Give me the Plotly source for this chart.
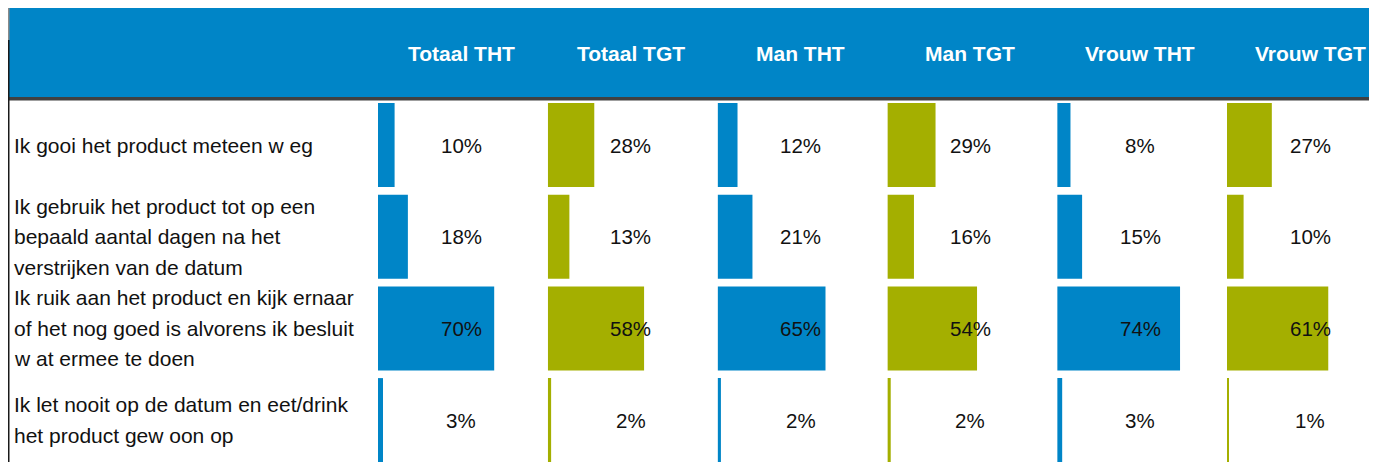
import plotly.graph_objects as go

# ---- data ----
columns = ["Totaal THT", "Totaal TGT", "Man THT", "Man TGT", "Vrouw THT", "Vrouw TGT"]
row_labels = [
    "Ik gooi het product meteen w eg",
    "Ik gebruik het product tot op een<br>bepaald aantal dagen na het<br>verstrijken van de datum",
    "Ik ruik aan het product en kijk ernaar<br>of het nog goed is alvorens ik besluit<br>w at ermee te doen",
    "Ik let nooit op de datum en eet/drink<br>het product gew oon op",
]
totaal_tht = [10, 18, 70, 3]
totaal_tgt = [28, 13, 58, 2]
man_tht = [12, 21, 65, 2]
man_tgt = [29, 16, 54, 2]
vrouw_tht = [8, 15, 74, 3]
vrouw_tgt = [27, 10, 61, 1]
series = [totaal_tht, totaal_tgt, man_tht, man_tgt, vrouw_tht, vrouw_tgt]

BLUE = "#0085C7"
OLIVE = "#A4AF00"
col_colors = [BLUE, OLIVE, BLUE, OLIVE, BLUE, OLIVE]

# page body has an 8px margin, so the figure is placed at (8, 8) in the window
W, H = 1369, 454
FONT = "Liberation Sans, Arial, sans-serif"

fig = go.Figure()
ypos = list(range(len(row_labels)))

annotations = []
layout_axes = {}
for i, (name, vals) in enumerate(zip(columns, series)):
    ax = "" if i == 0 else str(i + 1)
    fig.add_trace(go.Bar(
        x=vals, y=ypos, orientation="h", width=0.916,
        marker=dict(color=col_colors[i], line=dict(width=0)),
        xaxis="x" + ax, yaxis="y", showlegend=False, hoverinfo="skip",
    ))
    start = 370 + 169.8 * i
    end = min(W, start + 166)
    layout_axes["xaxis" + ax] = dict(
        domain=[start / W, end / W], range=[0, 100 * (end - start) / 166],
        visible=False, fixedrange=True,
    )
    for r, v in enumerate(vals):
        annotations.append(dict(
            x=50, y=r, xref="x" + ax, yref="y", text=f"{v}%", showarrow=False,
            xanchor="center", yanchor="middle",
            font=dict(family=FONT, size=20.5, color="#111111"),
        ))
    # header title
    annotations.append(dict(
        x=50, y=1 - 45 / H, xref="x" + ax, yref="paper", text=f"<b>{name}</b>",
        showarrow=False, xanchor="center", yanchor="middle",
        font=dict(family=FONT, size=21, color="white"),
    ))

# row labels, one annotation per line for Excel-like line spacing
for r, lab in enumerate(row_labels):
    lines = lab.split("<br>")
    n = len(lines)
    for k, ln in enumerate(lines):
        annotations.append(dict(
            x=4 / W, y=r, xref="paper", yref="y", text=ln, showarrow=False,
            xanchor="left", yanchor="middle", yshift=-(k - (n - 1) / 2) * 30.5,
            font=dict(family=FONT, size=21, color="#111111"),
        ))

shapes = [
    # header band
    dict(type="rect", xref="paper", yref="paper", x0=1 / W, x1=1,
         y0=1 - 89 / H, y1=1, fillcolor=BLUE, line=dict(width=0), layer="below"),
    # dark rule under header
    dict(type="rect", xref="paper", yref="paper", x0=0, x1=1,
         y0=1 - 92.5 / H, y1=1 - 89 / H, fillcolor="#404040", line=dict(width=0)),
    # left vertical line
    dict(type="line", xref="paper", yref="paper", x0=0.75 / W, x1=0.75 / W,
         y0=0, y1=1 - 32 / H, line=dict(color="#1a1a1a", width=1.5)),
    dict(type="line", xref="paper", yref="paper", x0=0.75 / W, x1=0.75 / W,
         y0=1 - 32 / H, y1=1, line=dict(color="#8a8a8a", width=1.5)),
]

fig.update_layout(
    width=W, height=H,
    margin=dict(l=0, r=0, t=0, b=0),
    paper_bgcolor="white", plot_bgcolor="white",
    yaxis=dict(range=[(H - 137) / 91.7, -137 / 91.7], domain=[0, 1],
               visible=False, fixedrange=True),
    barmode="overlay",
    annotations=annotations,
    shapes=shapes,
    **layout_axes,
)

fig.write_html("out.html")
